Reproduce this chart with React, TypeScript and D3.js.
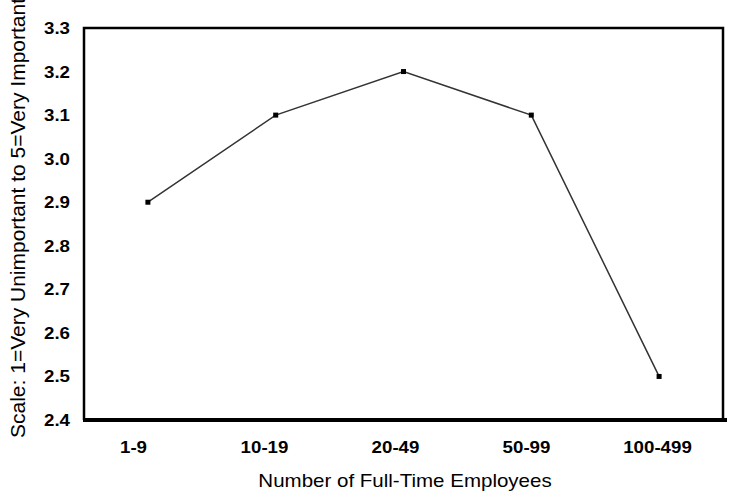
import React from "react";
import * as d3 from "d3";

const categories = ["1-9", "10-19", "20-49", "50-99", "100-499"];
const values = [2.9, 3.1, 3.2, 3.1, 2.5];
const yTicks = [2.4, 2.5, 2.6, 2.7, 2.8, 2.9, 3.0, 3.1, 3.2, 3.3];
const xTitle = "Number of Full-Time Employees";
const yTitle = "Scale: 1=Very Unimportant to 5=Very Important";

export default function App() {
  const W = 744, H = 498;
  const left = 84, right = 723, top = 28, bottom = 420;
  const x = d3.scaleBand<string>().domain(categories).range([left, right]);
  const xl = d3.scaleBand<string>().domain(categories).range([68, 723]);
  const y = d3.scaleLinear().domain([2.4, 3.3]).range([bottom, top]);
  const line = d3
    .line<number>()
    .x((_, i) => (x(categories[i]) as number) + x.bandwidth() / 2)
    .y((d) => y(d));
  const font = "'Liberation Sans', Arial, sans-serif";
  const sx = 1.1;
  return (
    <svg
      width={W}
      height={H}
      style={{ position: "absolute", left: 0, top: 0, background: "#fff" }}
      fontFamily={font}
    >
      <rect x={0} y={0} width={W} height={H} fill="#fff" />
      <path
        d={`M${left},${bottom} V${top} H${right} V${bottom}`}
        fill="none"
        stroke="#000"
        strokeWidth={2.5}
      />
      <line x1={left - 1} x2={right + 4} y1={bottom} y2={bottom} stroke="#000" strokeWidth={4} />
      {yTicks.map((t) => (
        <text
          key={t}
          transform={`translate(70,${y(t) + 6}) scale(${sx},1)`}
          textAnchor="end"
          fontSize={17}
          fontWeight="bold"
          fill="#000"
        >
          {t.toFixed(1)}
        </text>
      ))}
      {categories.map((c) => (
        <text
          key={c}
          transform={`translate(${(xl(c) as number) + xl.bandwidth() / 2},${453}) scale(${sx},1)`}
          textAnchor="middle"
          fontSize={17}
          fontWeight="bold"
          fill="#000"
        >
          {c}
        </text>
      ))}
      <path d={line(values) || ""} fill="none" stroke="#333" strokeWidth={1.5} />
      {values.map((v, i) => (
        <rect
          key={i}
          x={(x(categories[i]) as number) + x.bandwidth() / 2 - 2.5}
          y={y(v) - 2.5}
          width={5}
          height={5}
          fill="#000"
        />
      ))}
      <text
        transform={`translate(${405},${487}) scale(1.14,1)`}
        textAnchor="middle"
        fontSize={18}
        fill="#000"
      >
        {xTitle}
      </text>
      <text
        transform={`translate(25,${438}) rotate(-90)`}
        textAnchor="start"
        fontSize={21}
        fill="#000"
      >
        {yTitle}
      </text>
    </svg>
  );
}
